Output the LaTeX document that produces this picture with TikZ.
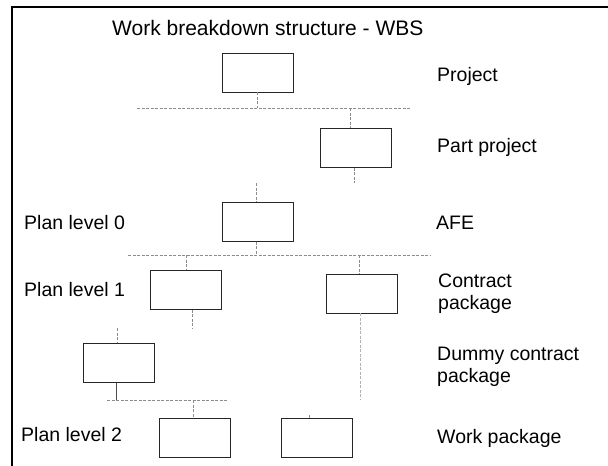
\documentclass[tikz,border=0pt]{standalone}
\usepackage{fontspec}
\setmainfont{Liberation Sans}
\begin{document}
\begin{tikzpicture}[x=1pt,y=-1pt,
  wbox/.style={draw=black!85,line width=0.8pt,minimum width=71pt,minimum height=39pt,inner sep=0pt},
  lbl/.style={anchor=west,inner sep=0pt,font=\fontsize{19.5}{22}\selectfont,align=left},
  conn/.style={draw=black!45,line width=0.6pt,dash pattern=on 3pt off 1.5pt},
  frame/.style={draw=black,line width=2pt}]
\useasboundingbox (0,0) rectangle (608,466);
% frame
\coordinate (ftl) at (12,7);
\coordinate (ftr) at (608,7);
\coordinate (fbl) at (12,466);
\draw[frame] (ftr) -- (ftl) -- (fbl);
% title
\node[anchor=west,inner sep=0pt,font=\fontsize{21}{24}\selectfont] (title) at (112,28) {Work breakdown structure - WBS};
% boxes
\node[wbox] (proj) at (257.5,72.5) {};
\node[wbox] (part) at (356,148) {};
\node[wbox] (afe) at (257.5,222) {};
\node[wbox] (pl1) at (186,290) {};
\node[wbox] (cp) at (362,293.5) {};
\node[wbox] (dum) at (119,363) {};
\node[wbox] (wp1) at (195,437.5) {};
\node[wbox] (wp2) at (317,437.5) {};
% labels
\node[lbl] (tproj) at (437,76) {Project};
\node[lbl] (tpart) at (437,147) {Part project};
\node[lbl] (tafe) at (436,223) {AFE};
\node[lbl] (tcp) at (438,294) {Contract\\package};
\node[lbl] (tdum) at (437,367) {Dummy contract\\package};
\node[lbl] (twp) at (437,438) {Work package};
\node[lbl] (tl0) at (24,223) {Plan level 0};
\node[lbl] (tl1) at (24,290) {Plan level 1};
\node[lbl] (tl2) at (21,435) {Plan level 2};
% connector coordinates
\coordinate (h1l) at (137,108);
\coordinate (h1r) at (411,108);
\coordinate (h1a) at (257,108);
\coordinate (h1b) at (350,108);
\coordinate (pa) at (354,183);
\coordinate (pb) at (256,183);
\coordinate (h2l) at (128,255);
\coordinate (h2r) at (431,255);
\coordinate (h2a) at (256,255);
\coordinate (h2b) at (186,255);
\coordinate (h2c) at (359,255);
\coordinate (d1) at (192,328);
\coordinate (d2) at (117,328);
\coordinate (h3l) at (107,400);
\coordinate (h3r) at (228,400);
\coordinate (h3a) at (116,400);
\coordinate (h3b) at (193,400);
\coordinate (h3c) at (360,400);
\coordinate (t2) at (309,415);
% connectors
\draw[conn] (proj.south -| h1a) -- (h1a);
\draw[conn] (h1l) -- (h1r);
\draw[conn] (h1b) -- (h1b |- part.north);
\draw[conn] (part.south -| pa) -- (pa);
\draw[conn] (pb) -- (pb |- afe.north);
\draw[conn] (afe.south -| h2a) -- (h2a);
\draw[conn] (h2l) -- (h2r);
\draw[conn] (h2b) -- (h2b |- pl1.north);
\draw[conn] (h2c) -- (h2c |- cp.north);
\draw[conn] (pl1.south -| d1) -- (d1);
\draw[conn] (d2) -- (d2 |- dum.north);
\draw[draw=black!70,line width=0.7pt] (dum.south -| h3a) -- (h3a);
\draw[conn] (h3l) -- (h3r);
\draw[conn] (h3b) -- (h3b |- wp1.north);
\draw[conn,draw=black!30] (cp.south -| h3c) -- (h3c);
\draw[conn] (t2) -- (t2 |- wp2.north);
\end{tikzpicture}
\end{document}
